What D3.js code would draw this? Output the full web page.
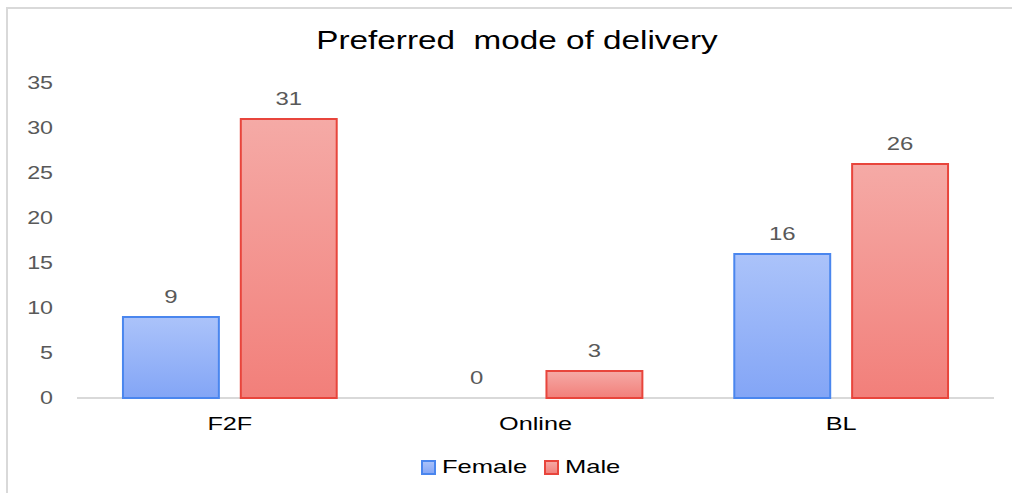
<!DOCTYPE html>
<html>
<head>
<meta charset="utf-8">
<script src="https://cdn.jsdelivr.net/npm/d3@7"></script>
<style>
  body { margin: 0; background: #fff; }
  text { font-family: "Liberation Sans", Arial, sans-serif; white-space: pre; }
</style>
</head>
<body>
<div id="chart"></div>
<script>
const categories = ["F2F", "Online", "BL"];
const seriesNames = ["Female", "Male"];
const female = [9, 0, 16];
const male = [31, 3, 26];
const yTicks = [0, 5, 10, 15, 20, 25, 30, 35];

const width = 1012,
    height = 493,
    plotLeft = 77,
    plotRight = 994,
    plotTop = 83,
    plotBottom = 398,
    stretch = 1.33; // the source image text is wide, squash it out horizontally

const colors = {
    Female: { top: "#abc3fa", bottom: "#83a5f6", stroke: "#4a86ee" },
    Male: { top: "#f5aaa6", bottom: "#f27f7a", stroke: "#e8453c" }
};

const rows = categories.map((c, i) => ({ cat: c, Female: female[i], Male: male[i] }));

const pos = (x, y, sx) => 'translate(' + x + ',' + y + ') scale(' + (sx || stretch) + ',1)';

const svg = d3.select('#chart').append('svg')
    .attr('width', width)
    .attr('height', height);

// frame (only top + left visible in the picture)
svg.append('path')
    .attr('d', 'M7,1012 V8 H1012')
    .attr('fill', 'none')
    .attr('stroke', '#d9d9d9')
    .attr('stroke-width', 2);

const defs = svg.append('defs');
seriesNames.forEach(s => {
    const g = defs.append('linearGradient')
        .attr('id', 'grad' + s)
        .attr('x1', 0).attr('y1', 0).attr('x2', 0).attr('y2', 1);
    g.append('stop').attr('offset', '0%').attr('stop-color', colors[s].top);
    g.append('stop').attr('offset', '100%').attr('stop-color', colors[s].bottom);
});

const x0 = d3.scaleBand()
    .domain(categories)
    .range([plotLeft, plotRight]);

const x1 = d3.scaleBand()
    .domain(seriesNames)
    .range([0, x0.bandwidth()])
    .paddingInner(0.186)
    .paddingOuter(0.39);

const y = d3.scaleLinear()
    .domain([0, 35])
    .range([plotBottom, plotTop]);

svg.append('text')
    .attr('transform', pos(517, 49, 1.28))
    .attr('text-anchor', 'middle')
    .attr('font-size', 26)
    .attr('fill', '#000')
    .text('Preferred  mode of delivery');

// y tick labels
svg.append('g')
    .selectAll('text')
    .data(yTicks)
    .enter()
    .append('text')
    .attr('transform', d => pos(53, y(d)))
    .attr('dy', '0.35em')
    .attr('text-anchor', 'end')
    .attr('font-size', 17.5)
    .attr('fill', '#595959')
    .text(d => d);

// baseline
svg.append('line')
    .attr('x1', plotLeft).attr('x2', plotRight)
    .attr('y1', y(0)).attr('y2', y(0))
    .attr('stroke', '#d9d9d9')
    .attr('stroke-width', 2);

const groups = svg.selectAll('g.cat')
    .data(rows)
    .enter()
    .append('g')
    .attr('class', 'cat')
    .attr('transform', d => 'translate(' + x0(d.cat) + ',0)');

groups.selectAll('rect')
    .data(d => seriesNames.map(s => ({ s: s, v: d[s] })).filter(b => b.v > 0))
    .enter()
    .append('rect')
    .attr('x', d => x1(d.s))
    .attr('y', d => y(d.v))
    .attr('width', x1.bandwidth())
    .attr('height', d => y(0) - y(d.v))
    .attr('fill', d => 'url(#grad' + d.s + ')')
    .attr('stroke', d => colors[d.s].stroke)
    .attr('stroke-width', 2);

groups.selectAll('text.val')
    .data(d => seriesNames.map(s => ({ s: s, v: d[s] })))
    .enter()
    .append('text')
    .attr('class', 'val')
    .attr('transform', d => pos(x1(d.s) + x1.bandwidth() / 2, y(d.v) - 14))
    .attr('text-anchor', 'middle')
    .attr('font-size', 18)
    .attr('fill', '#595959')
    .text(d => d.v);

// category labels
svg.append('g')
    .selectAll('text')
    .data(categories)
    .enter()
    .append('text')
    .attr('transform', d => pos(x0(d) + x0.bandwidth() / 2, 430))
    .attr('text-anchor', 'middle')
    .attr('font-size', 19)
    .attr('fill', '#000')
    .text(d => d);

// legend
const legendX = [422, 545];
const legend = svg.append('g')
    .selectAll('g')
    .data(seriesNames)
    .enter()
    .append('g')
    .attr('transform', (d, i) => 'translate(' + legendX[i] + ',461)');

legend.append('rect')
    .attr('width', 13).attr('height', 13)
    .attr('fill', d => 'url(#grad' + d + ')')
    .attr('stroke', d => colors[d].stroke)
    .attr('stroke-width', 2);

legend.append('text')
    .attr('transform', pos(20, 12, 1.38))
    .attr('font-size', 18.5)
    .attr('fill', '#000')
    .text(d => d);
</script>
</body>
</html>
